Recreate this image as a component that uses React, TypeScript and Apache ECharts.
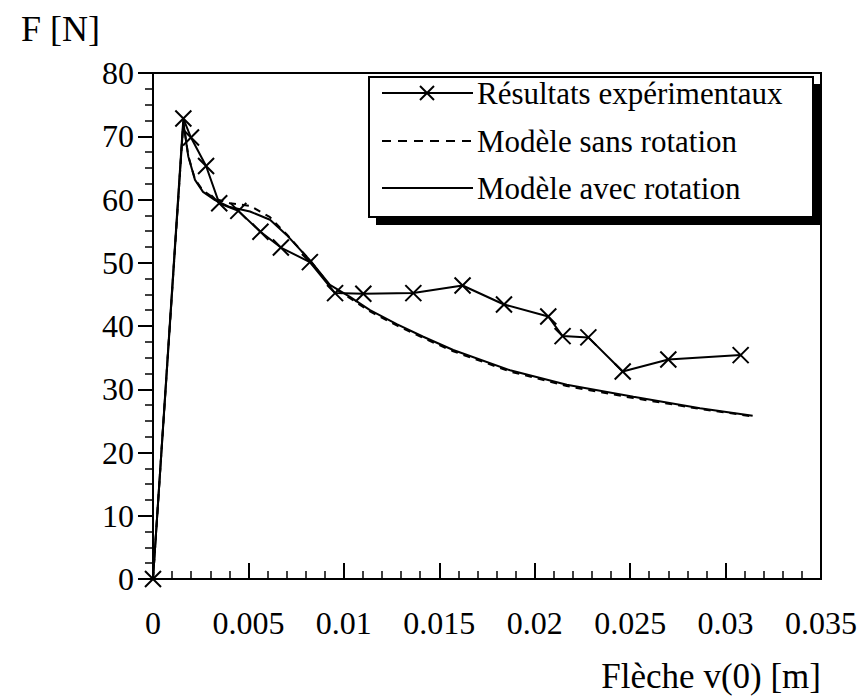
import React, { useEffect, useRef } from "react";
import * as echarts from "echarts";

const FONT = "Liberation Serif";

// Experimental results (× markers)
const xExp = [0, 0.00159, 0.00199, 0.00278, 0.00347, 0.00447, 0.00563, 0.0067, 0.00822, 0.00954, 0.01102, 0.01364, 0.01622, 0.01839, 0.02071, 0.02146, 0.02281, 0.02461, 0.027, 0.03079];
const yExp = [0, 72.8, 69.8, 65.3, 59.4, 58.2, 54.9, 52.4, 50.1, 45.2, 45.1, 45.2, 46.4, 43.4, 41.5, 38.4, 38.2, 32.8, 34.7, 35.4];

// Models
const xModel = [0, 0.00159, 0.00185, 0.0022, 0.00262, 0.00325, 0.00403, 0.00508, 0.00613, 0.007, 0.00822, 0.00927, 0.01032, 0.01137, 0.01277, 0.01416, 0.01573, 0.01871, 0.02168, 0.02517, 0.02866, 0.03142];
const ySans = [0, 72.2, 66.9, 63.2, 61.4, 60.1, 59.4, 59.0, 57.2, 54.5, 50.4, 46.4, 44.4, 42.3, 40.1, 38.1, 36.0, 32.8, 30.5, 28.6, 26.9, 25.7];
const yAvec = [0, 72.2, 66.8, 63.1, 61.2, 59.9, 58.8, 58.1, 56.8, 54.4, 50.4, 46.5, 44.6, 42.5, 40.3, 38.3, 36.2, 33.0, 30.7, 28.8, 27.0, 25.8];

const seriesNames = ["Résultats expérimentaux", "Modèle sans rotation", "Modèle avec rotation"];
const xTickLabels = ["0", "0.005", "0.01", "0.015", "0.02", "0.025", "0.03", "0.035"];
const yTickLabels = ["0", "10", "20", "30", "40", "50", "60", "70", "80"];
const xName = "Flèche v(0) [m]";
const yName = "F [N]";

const CROSS = "path://M0,0L10,10M10,0L0,10";

function zip(xs: number[], ys: number[]) {
  return xs.map((x, i) => [x, ys[i]]);
}

function buildLegend() {
  const left = 369;
  const top = 77;
  const w = 444;
  const h = 140;
  const rows = [93, 141, 188];
  const x1 = 382;
  const x2 = 473;
  const tx = 477;
  const els: any[] = [
    { type: "rect", shape: { x: left + 7, y: top + 7, width: w + 2, height: h + 1 }, style: { fill: "#000" }, z: 10 },
    { type: "rect", shape: { x: left, y: top, width: w, height: h }, style: { fill: "#fff", stroke: "#000", lineWidth: 2 }, z: 11 },
    { type: "line", shape: { x1, y1: rows[0], x2, y2: rows[0] }, style: { stroke: "#000", lineWidth: 2 }, z: 12 },
    { type: "line", shape: { x1: 420, y1: rows[0] - 7, x2: 434, y2: rows[0] + 7 }, style: { stroke: "#000", lineWidth: 2 }, z: 12 },
    { type: "line", shape: { x1: 434, y1: rows[0] - 7, x2: 420, y2: rows[0] + 7 }, style: { stroke: "#000", lineWidth: 2 }, z: 12 },
    { type: "line", shape: { x1, y1: rows[1], x2, y2: rows[1] }, style: { stroke: "#000", lineWidth: 2, lineDash: [9, 7] }, z: 12 },
    { type: "line", shape: { x1, y1: rows[2], x2, y2: rows[2] }, style: { stroke: "#000", lineWidth: 2 }, z: 12 },
  ];
  seriesNames.forEach((name, i) => {
    els.push({
      type: "text",
      x: tx,
      y: rows[i],
      style: { text: name, fill: "#000", fontFamily: FONT, fontSize: 31, align: "left", verticalAlign: "middle" },
      z: 12,
    });
  });
  return els;
}

export default function App() {
  const ref = useRef<HTMLDivElement>(null);
  useEffect(() => {
    const chart = echarts.init(ref.current!, null, { renderer: "svg" });
    const option: any = {
      animation: false,
      backgroundColor: "#fff",
      textStyle: { fontFamily: FONT, color: "#000" },
      grid: { left: 153, top: 73, width: 668, height: 506, show: true, borderColor: "#000", borderWidth: 2, backgroundColor: "transparent" },
      xAxis: {
        type: "value",
        min: 0,
        max: 0.035,
        interval: 0.005,
        name: xName,
        nameLocation: "end",
        nameGap: 0,
        nameTextStyle: { fontFamily: FONT, fontSize: 35, color: "#000", align: "right", verticalAlign: "top", padding: [80, 0, 0, 0] },
        axisLine: { show: true, lineStyle: { color: "#000", width: 2 } },
        axisTick: { show: true, inside: true, length: 16, lineStyle: { color: "#000", width: 2 } },
        minorTick: { show: true, splitNumber: 5, length: 8, lineStyle: { color: "#000", width: 1.5 } },
        splitLine: { show: false },
        axisLabel: {
          margin: 28,
          fontFamily: FONT,
          fontSize: 32,
          color: "#000",
          formatter: (_v: number, i: number) => xTickLabels[i] ?? "",
        },
      },
      yAxis: {
        type: "value",
        min: 0,
        max: 80,
        interval: 10,
        name: yName,
        nameLocation: "end",
        nameGap: 26,
        nameTextStyle: { fontFamily: FONT, fontSize: 36, color: "#000", align: "right", verticalAlign: "bottom", padding: [0, 53, 0, 0] },
        axisLine: { show: true, lineStyle: { color: "#000", width: 2 } },
        axisTick: { show: true, inside: false, length: 15, lineStyle: { color: "#000", width: 2 } },
        minorTick: { show: true, splitNumber: 4, length: 8, lineStyle: { color: "#000", width: 1.5 } },
        splitLine: { show: false },
        axisLabel: {
          margin: 19,
          fontFamily: FONT,
          fontSize: 32,
          color: "#000",
          formatter: (_v: number, i: number) => yTickLabels[i] ?? "",
        },
      },
      series: [
        {
          name: seriesNames[1],
          type: "line",
          data: zip(xModel, ySans),
          showSymbol: false,
          symbol: "none",
          lineStyle: { color: "#000", width: 2, type: [7, 6] },
          z: 2,
        },
        {
          name: seriesNames[2],
          type: "line",
          data: zip(xModel, yAvec),
          showSymbol: false,
          symbol: "none",
          lineStyle: { color: "#000", width: 2 },
          z: 3,
        },
        {
          name: seriesNames[0],
          type: "line",
          data: zip(xExp, yExp),
          symbol: CROSS,
          symbolSize: 16,
          showAllSymbol: true,
          clip: false,
          itemStyle: { color: "#000", borderColor: "#000", borderWidth: 2 },
          lineStyle: { color: "#000", width: 2 },
          z: 4,
        },
      ],
      graphic: buildLegend(),
    };
    chart.setOption(option);
    return () => chart.dispose();
  }, []);
  return (
    <div
      ref={ref}
      style={{ position: "absolute", left: 0, top: 0, width: 862, height: 696, background: "#fff" }}
    />
  );
}
